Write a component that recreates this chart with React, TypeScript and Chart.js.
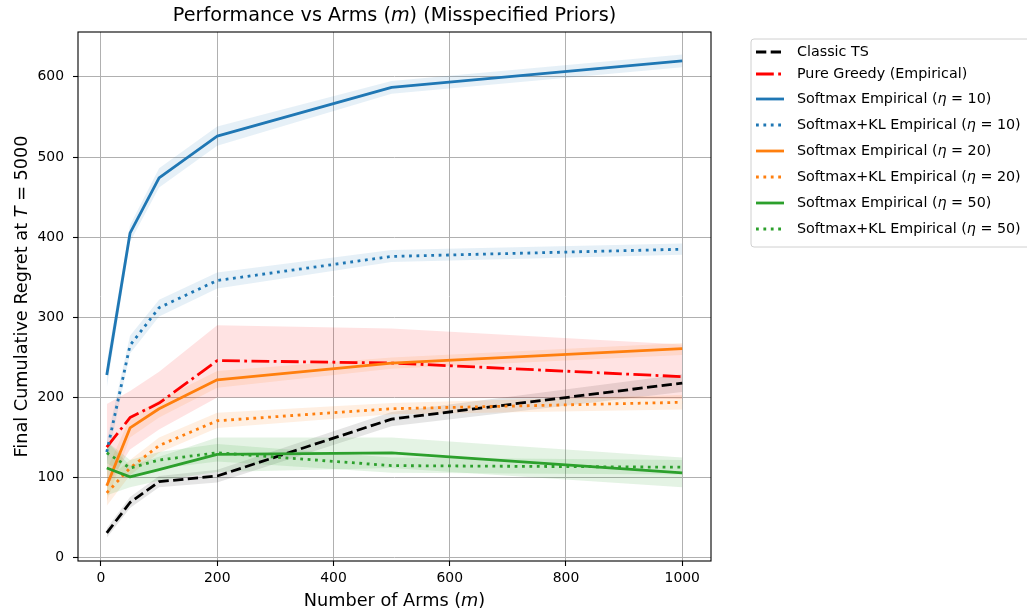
import React, { useEffect, useRef } from "react";
import { Chart, registerables } from "chart.js";

Chart.register(...registerables);

const arms = [10, 50, 100, 200, 500, 1000];

const classicTS = [31, 69, 95, 102, 173, 218];
const classicTSLo = [25, 62, 88, 94, 164, 207];
const classicTSHi = [37, 76, 102, 110, 182, 229];

const pureGreedy = [138, 175, 193, 246, 243, 226];
const pureGreedyLo = [88, 135, 160, 200, 200, 198];
const pureGreedyHi = [192, 208, 232, 290, 286, 266];

const softmax10 = [228, 405, 474, 526, 587, 620];
const softmax10Lo = [212, 394, 462, 514, 579, 612];
const softmax10Hi = [244, 415, 486, 538, 595, 628];

const softmaxKL10 = [132, 265, 312, 346, 376, 385];
const softmaxKL10Lo = [118, 255, 301, 336, 369, 378];
const softmaxKL10Hi = [146, 277, 322, 356, 384, 392];

const softmax20 = [90, 162, 186, 222, 243, 261];
const softmax20Lo = [70, 150, 175, 212, 236, 253];
const softmax20Hi = [110, 175, 197, 233, 250, 268];

const softmaxKL20 = [81, 112, 140, 171, 186, 194];
const softmaxKL20Lo = [65, 103, 131, 162, 179, 185];
const softmaxKL20Hi = [98, 122, 150, 181, 193, 203];

const softmax50 = [112, 101, 110, 129, 131, 106];
const softmax50Lo = [78, 88, 96, 107, 112, 88];
const softmax50Hi = [145, 115, 126, 150, 150, 125];

const softmaxKL50 = [131, 112, 122, 131, 115, 113];
const softmaxKL50Lo = [118, 101, 111, 120, 106, 104];
const softmaxKL50Hi = [145, 122, 132, 142, 125, 122];

const xTicks = [0, 200, 400, 600, 800, 1000];
const yTicks = [0, 100, 200, 300, 400, 500, 600];

const chartTitle = [
  { t: "Performance vs Arms (" },
  { t: "m", i: true },
  { t: ") (Misspecified Priors)" },
];
const xTitle = [{ t: "Number of Arms (" }, { t: "m", i: true }, { t: ")" }];
const yTitle = [{ t: "Final Cumulative Regret at " }, { t: "T", i: true }, { t: " = 5000" }];

const DOT = [2.8, 4.6];
const DASH = [10.3, 4.4];
const DASHDOT = [17.8, 4.4, 2.8, 4.4];

type Seg = { t: string; i?: boolean };

const series: {
  label: Seg[];
  data: number[];
  lo: number[];
  hi: number[];
  color: string;
  fillColor: string;
  dash: number[];
}[] = [
  { label: [{ t: "Classic TS" }], data: classicTS, lo: classicTSLo, hi: classicTSHi, color: "#000000", fillColor: "rgba(0,0,0,0.1)", dash: DASH },
  { label: [{ t: "Pure Greedy (Empirical)" }], data: pureGreedy, lo: pureGreedyLo, hi: pureGreedyHi, color: "#ff0000", fillColor: "rgba(255,0,0,0.11)", dash: DASHDOT },
  { label: [{ t: "Softmax Empirical (" }, { t: "η", i: true }, { t: " = 10)" }], data: softmax10, lo: softmax10Lo, hi: softmax10Hi, color: "#1f77b4", fillColor: "rgba(31,119,180,0.11)", dash: [] },
  { label: [{ t: "Softmax+KL Empirical (" }, { t: "η", i: true }, { t: " = 10)" }], data: softmaxKL10, lo: softmaxKL10Lo, hi: softmaxKL10Hi, color: "#1f77b4", fillColor: "rgba(31,119,180,0.11)", dash: DOT },
  { label: [{ t: "Softmax Empirical (" }, { t: "η", i: true }, { t: " = 20)" }], data: softmax20, lo: softmax20Lo, hi: softmax20Hi, color: "#ff7f0e", fillColor: "rgba(255,127,14,0.12)", dash: [] },
  { label: [{ t: "Softmax+KL Empirical (" }, { t: "η", i: true }, { t: " = 20)" }], data: softmaxKL20, lo: softmaxKL20Lo, hi: softmaxKL20Hi, color: "#ff7f0e", fillColor: "rgba(255,127,14,0.12)", dash: DOT },
  { label: [{ t: "Softmax Empirical (" }, { t: "η", i: true }, { t: " = 50)" }], data: softmax50, lo: softmax50Lo, hi: softmax50Hi, color: "#2ca02c", fillColor: "rgba(44,160,44,0.13)", dash: [] },
  { label: [{ t: "Softmax+KL Empirical (" }, { t: "η", i: true }, { t: " = 50)" }], data: softmaxKL50, lo: softmaxKL50Lo, hi: softmaxKL50Hi, color: "#2ca02c", fillColor: "rgba(44,160,44,0.13)", dash: DOT },
];

const FONT = "'DejaVu Sans', sans-serif";

function richWidth(ctx: CanvasRenderingContext2D, segs: Seg[], size: number) {
  let w = 0;
  for (const s of segs) {
    ctx.font = `${s.i ? "italic " : ""}${size}px ${FONT}`;
    w += ctx.measureText(s.t).width;
  }
  return w;
}

function drawRich(
  ctx: CanvasRenderingContext2D,
  segs: Seg[],
  x: number,
  y: number,
  size: number,
  align: "left" | "center"
) {
  const w = richWidth(ctx, segs, size);
  let cx = align === "center" ? x - w / 2 : x;
  ctx.textAlign = "left";
  ctx.textBaseline = "middle";
  ctx.fillStyle = "#000";
  for (const s of segs) {
    ctx.font = `${s.i ? "italic " : ""}${size}px ${FONT}`;
    ctx.fillText(s.t, cx, y);
    cx += ctx.measureText(s.t).width;
  }
}

const decorPlugin = {
  id: "decor",
  afterDraw(chart: any) {
    const ctx: CanvasRenderingContext2D = chart.ctx;
    const a = chart.chartArea;
    ctx.save();
    // frame
    ctx.strokeStyle = "#000";
    ctx.lineWidth = 1.1;
    ctx.setLineDash([]);
    ctx.strokeRect(a.left, a.top, a.right - a.left, a.bottom - a.top);
    // title and axis labels
    const cxm = (a.left + a.right) / 2;
    drawRich(ctx, chartTitle, cxm, 16, 19.2, "center");
    drawRich(ctx, xTitle, cxm, 601, 17.7, "center");
    ctx.save();
    ctx.translate(22, (a.top + a.bottom) / 2);
    ctx.rotate(-Math.PI / 2);
    drawRich(ctx, yTitle, 0, 0, 17.7, "center");
    ctx.restore();
    // legend
    const lx = 751, ly = 39, lw = 300, lh = 208, r = 3;
    ctx.beginPath();
    ctx.moveTo(lx + r, ly);
    ctx.lineTo(lx + lw - r, ly);
    ctx.arcTo(lx + lw, ly, lx + lw, ly + r, r);
    ctx.lineTo(lx + lw, ly + lh - r);
    ctx.arcTo(lx + lw, ly + lh, lx + lw - r, ly + lh, r);
    ctx.lineTo(lx + r, ly + lh);
    ctx.arcTo(lx, ly + lh, lx, ly + lh - r, r);
    ctx.lineTo(lx, ly + r);
    ctx.arcTo(lx, ly, lx + r, ly, r);
    ctx.closePath();
    ctx.fillStyle = "rgba(255,255,255,0.8)";
    ctx.fill();
    ctx.strokeStyle = "#d0d0d0";
    ctx.lineWidth = 1;
    ctx.stroke();
    const rowsY = [52, 74, 99, 125, 151, 177, 203, 229];
    series.forEach((s, k) => {
      const yy = rowsY[k];
      ctx.beginPath();
      ctx.setLineDash(s.dash);
      ctx.lineCap = "butt";
      ctx.strokeStyle = s.color;
      ctx.lineWidth = 2.8;
      ctx.moveTo(756, yy);
      ctx.lineTo(784, yy);
      ctx.stroke();
      ctx.setLineDash([]);
      drawRich(ctx, s.label, 797, yy, 14.3, "left");
    });
    ctx.restore();
  },
};

export default function App() {
  const ref = useRef<HTMLCanvasElement | null>(null);
  useEffect(() => {
    if (!ref.current) return;
    Chart.defaults.font.family = FONT;
    const datasets: any[] = [];
    series.forEach((s, k) => {
      const lowIdx = datasets.length;
      datasets.push({
        data: arms.map((x, j) => ({ x, y: s.lo[j] })),
        borderColor: "rgba(0,0,0,0)",
        borderWidth: 0,
        pointRadius: 0,
        fill: false,
        order: 100 + (series.length - k) * 2,
      });
      datasets.push({
        data: arms.map((x, j) => ({ x, y: s.hi[j] })),
        borderColor: "rgba(0,0,0,0)",
        backgroundColor: s.fillColor,
        borderWidth: 0,
        pointRadius: 0,
        fill: lowIdx,
        order: 100 + (series.length - k) * 2 - 1,
      });
    });
    series.forEach((s, k) => {
      datasets.push({
        data: arms.map((x, j) => ({ x, y: s.data[j] })),
        borderColor: s.color,
        borderWidth: 2.8,
        borderDash: s.dash,
        borderCapStyle: "butt",
        borderJoinStyle: "round",
        pointRadius: 0,
        tension: 0,
        fill: false,
        order: series.length - k,
      });
    });
    const chart = new Chart(ref.current, {
      type: "line",
      data: { datasets },
      plugins: [decorPlugin],
      options: {
        responsive: false,
        animation: false,
        events: [],
        devicePixelRatio: 1,
        layout: { padding: { left: 0, top: 32, right: 316, bottom: 0 } },
        plugins: {
          legend: { display: false },
          tooltip: { enabled: false },
          title: { display: false },
        },
        scales: {
          x: {
            type: "linear",
            min: -39.5,
            max: 1049.5,
            afterBuildTicks: (s: any) => {
              s.ticks = xTicks.map((v) => ({ value: v }));
            },
            afterFit: (s: any) => {
              s.height = 50;
            },
            grid: { color: "#b0b0b0", lineWidth: 1, tickColor: "#000", tickLength: 5, tickWidth: 1.1 },
            border: { display: false },
            ticks: {
              color: "#000",
              font: { size: 13.9 },
              padding: 4,
              maxRotation: 0,
              autoSkip: false,
              callback: (v: any) => String(v),
            },
          },
          y: {
            type: "linear",
            min: -4,
            max: 656,
            afterBuildTicks: (s: any) => {
              s.ticks = yTicks.map((v) => ({ value: v }));
            },
            afterFit: (s: any) => {
              s.width = 78;
            },
            grid: { color: "#b0b0b0", lineWidth: 1, tickColor: "#000", tickLength: 5, tickWidth: 1.1 },
            border: { display: false },
            ticks: { color: "#000", font: { size: 13.9 }, padding: 9, autoSkip: false, callback: (v: any) => String(v) },
          },
        },
      } as any,
    });
    return () => chart.destroy();
  }, []);
  return (
    <div style={{ position: "fixed", left: 0, top: 0, width: 1027, height: 611, background: "#fff" }}>
      <canvas ref={ref} width={1027} height={611} style={{ display: "block" }} />
    </div>
  );
}
